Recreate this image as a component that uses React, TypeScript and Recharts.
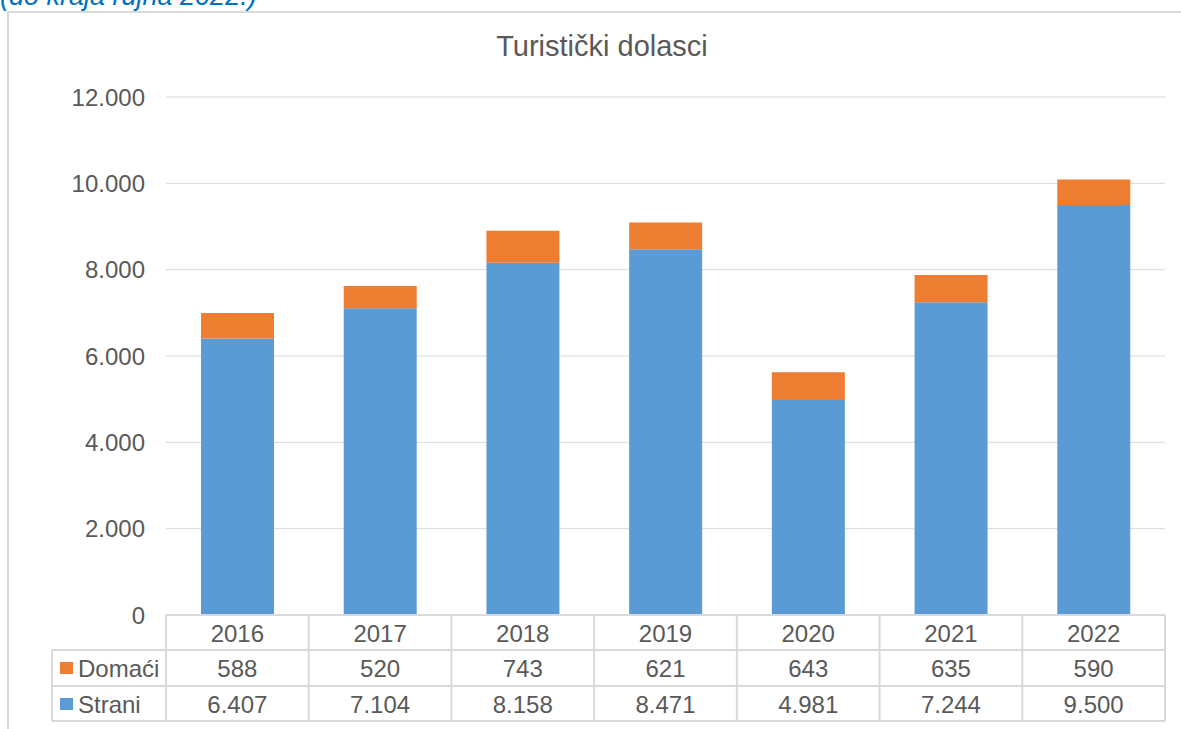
import { Bar, BarChart, XAxis, YAxis, CartesianGrid } from 'recharts';

const years = ['2016', '2017', '2018', '2019', '2020', '2021', '2022'];
const strani = [6407, 7104, 8158, 8471, 4981, 7244, 9500];
const domaci = [588, 520, 743, 621, 643, 635, 590];
const yTicks = [0, 2000, 4000, 6000, 8000, 10000, 12000];

const chartData = years.map((year, i) => ({
    year,
    Strani: strani[i],
    Domaci: domaci[i],
}));

const FONT = '"Liberation Sans", Arial, sans-serif';
const TEXT = '#595959';
const LINE = '#d9d9d9';
const BLUE = '#5b9bd5';
const ORANGE = '#ed7d31';
const PLOT_LEFT = 166;
const PLOT_RIGHT = 1165;
const BAND = (PLOT_RIGHT - PLOT_LEFT) / years.length;

const fmt = (v: number) => String(v).replace(/\B(?=(\d{3})+(?!\d))/g, '.');

const TableTick = (props: any) => {
    const { x, y, payload, index } = props;
    const top = y;
    const r1 = top + 35;
    const r2 = top + 71;
    const bottom = top + 106;
    const left = x - BAND / 2;
    const right = x + BAND / 2;
    const i = years.indexOf(payload.value);
    const last = index === years.length - 1;

    return (
        <g fontFamily={FONT} fontSize={24} fill={TEXT}>
            <line x1={left} x2={right} y1={top} y2={top} stroke={LINE} strokeWidth={2} />
            <line x1={left} x2={right} y1={r1} y2={r1} stroke={LINE} strokeWidth={2} />
            <line x1={left} x2={right} y1={r2} y2={r2} stroke={LINE} strokeWidth={2} />
            <line x1={left} x2={right} y1={bottom} y2={bottom} stroke={LINE} strokeWidth={2} />
            <line x1={left} x2={left} y1={top} y2={bottom} stroke={LINE} strokeWidth={2} />
            {last && <line x1={right} x2={right} y1={top} y2={bottom} stroke={LINE} strokeWidth={2} />}
            <text x={x} y={top + 18} textAnchor="middle" dominantBaseline="central" fill={TEXT}>{payload.value}</text>
            <text x={x} y={r1 + 18} textAnchor="middle" dominantBaseline="central" fill={TEXT}>{fmt(domaci[i])}</text>
            <text x={x} y={r2 + 18} textAnchor="middle" dominantBaseline="central" fill={TEXT}>{fmt(strani[i])}</text>
            {index === 0 && (
                <g>
                    <line x1={52} x2={left} y1={r1} y2={r1} stroke={LINE} strokeWidth={2} />
                    <line x1={52} x2={left} y1={r2} y2={r2} stroke={LINE} strokeWidth={2} />
                    <line x1={52} x2={left} y1={bottom} y2={bottom} stroke={LINE} strokeWidth={2} />
                    <line x1={52} x2={52} y1={r1} y2={bottom} stroke={LINE} strokeWidth={2} />
                    <rect x={60} y={r1 + 12} width={13} height={12} fill={ORANGE} />
                    <text x={78} y={r1 + 18} dominantBaseline="central" fill={TEXT}>Domaći</text>
                    <rect x={60} y={r2 + 12} width={13} height={12} fill={BLUE} />
                    <text x={78} y={r2 + 18} dominantBaseline="central" fill={TEXT}>Strani</text>
                </g>
            )}
        </g>
    );
};

const App = () => {
    return (
        <div style={{ position: 'absolute', left: 0, top: 0, width: 1181, height: 729, overflow: 'hidden', background: '#fff' }}>
            <div
                style={{
                    position: 'absolute',
                    left: 0,
                    top: -19,
                    fontFamily: FONT,
                    fontStyle: 'italic',
                    fontSize: 27,
                    color: '#0070c0',
                    whiteSpace: 'nowrap',
                }}
            >
                (do kraja rujna 2022.)
            </div>
            <div
                style={{
                    position: 'absolute',
                    left: 7,
                    top: 11,
                    width: 1220,
                    height: 760,
                    border: '2px solid #d9d9d9',
                    boxSizing: 'border-box',
                }}
            />
            <div
                style={{
                    position: 'absolute',
                    left: 0,
                    width: 1204,
                    top: 30,
                    textAlign: 'center',
                    fontFamily: FONT,
                    fontSize: 29,
                    color: TEXT,
                }}
            >
                Turistički dolasci
            </div>
            <div style={{ position: 'absolute', left: 0, top: 0 }}>
                <BarChart
                    width={1181}
                    height={729}
                    data={chartData}
                    margin={{ top: 97, right: 1181 - PLOT_RIGHT, bottom: 8, left: 0 }}
                    barSize={73}
                >
                    <CartesianGrid vertical={false} stroke={LINE} strokeWidth={1} />
                    <YAxis
                        width={PLOT_LEFT}
                        domain={[0, 12000]}
                        ticks={yTicks}
                        tickFormatter={fmt}
                        axisLine={false}
                        tickLine={false}
                        tickSize={0}
                        tickMargin={21}
                        tick={{ fontFamily: FONT, fontSize: 24, fill: TEXT }}
                    />
                    <XAxis
                        dataKey="year"
                        height={106}
                        axisLine={false}
                        tickLine={false}
                        tickSize={0}
                        tickMargin={0}
                        tick={<TableTick />}
                        interval={0}
                    />
                    <Bar dataKey="Strani" stackId="a" fill={BLUE} isAnimationActive={false} />
                    <Bar dataKey="Domaci" stackId="a" fill={ORANGE} isAnimationActive={false} />
                </BarChart>
            </div>
        </div>
    );
};

export default App;
